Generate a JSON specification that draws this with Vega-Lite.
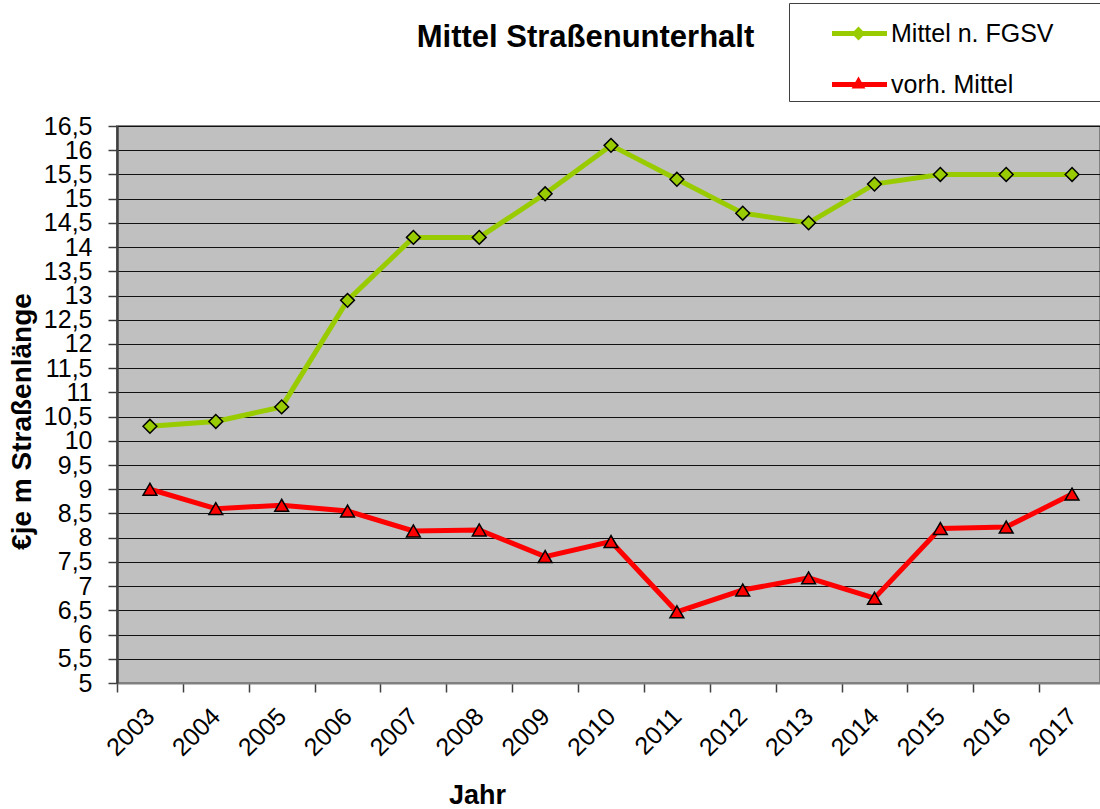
{
  "$schema": "https://vega.github.io/schema/vega-lite/v6.json",
  "width": 983,
  "height": 557,
  "autosize": {"type": "none"},
  "padding": {"left": 117, "top": 126, "right": 0, "bottom": 126},
  "background": "white",
  "config": {
    "font": "Liberation Sans",
    "view": {"fill": "#C0C0C0", "stroke": "#808080", "strokeWidth": 2}
  },
  "title": {
    "text": "Mittel Straßenunterhalt",
    "fontSize": 31,
    "fontWeight": "bold",
    "font": "Liberation Sans",
    "color": "black",
    "anchor": "middle",
    "frame": "group",
    "baseline": "alphabetic",
    "dx": -23,
    "offset": -75
  },
  "data": {
    "values": [
      {"Jahr": "2003", "Reihe": "Mittel n. FGSV", "Wert": 10.3},
      {"Jahr": "2004", "Reihe": "Mittel n. FGSV", "Wert": 10.4},
      {"Jahr": "2005", "Reihe": "Mittel n. FGSV", "Wert": 10.7},
      {"Jahr": "2006", "Reihe": "Mittel n. FGSV", "Wert": 12.9},
      {"Jahr": "2007", "Reihe": "Mittel n. FGSV", "Wert": 14.2},
      {"Jahr": "2008", "Reihe": "Mittel n. FGSV", "Wert": 14.2},
      {"Jahr": "2009", "Reihe": "Mittel n. FGSV", "Wert": 15.1},
      {"Jahr": "2010", "Reihe": "Mittel n. FGSV", "Wert": 16.1},
      {"Jahr": "2011", "Reihe": "Mittel n. FGSV", "Wert": 15.4},
      {"Jahr": "2012", "Reihe": "Mittel n. FGSV", "Wert": 14.7},
      {"Jahr": "2013", "Reihe": "Mittel n. FGSV", "Wert": 14.5},
      {"Jahr": "2014", "Reihe": "Mittel n. FGSV", "Wert": 15.3},
      {"Jahr": "2015", "Reihe": "Mittel n. FGSV", "Wert": 15.5},
      {"Jahr": "2016", "Reihe": "Mittel n. FGSV", "Wert": 15.5},
      {"Jahr": "2017", "Reihe": "Mittel n. FGSV", "Wert": 15.5},
      {"Jahr": "2003", "Reihe": "vorh. Mittel", "Wert": 9.0},
      {"Jahr": "2004", "Reihe": "vorh. Mittel", "Wert": 8.6},
      {"Jahr": "2005", "Reihe": "vorh. Mittel", "Wert": 8.67},
      {"Jahr": "2006", "Reihe": "vorh. Mittel", "Wert": 8.55},
      {"Jahr": "2007", "Reihe": "vorh. Mittel", "Wert": 8.14},
      {"Jahr": "2008", "Reihe": "vorh. Mittel", "Wert": 8.16},
      {"Jahr": "2009", "Reihe": "vorh. Mittel", "Wert": 7.61},
      {"Jahr": "2010", "Reihe": "vorh. Mittel", "Wert": 7.92},
      {"Jahr": "2011", "Reihe": "vorh. Mittel", "Wert": 6.47},
      {"Jahr": "2012", "Reihe": "vorh. Mittel", "Wert": 6.92},
      {"Jahr": "2013", "Reihe": "vorh. Mittel", "Wert": 7.17},
      {"Jahr": "2014", "Reihe": "vorh. Mittel", "Wert": 6.75},
      {"Jahr": "2015", "Reihe": "vorh. Mittel", "Wert": 8.19},
      {"Jahr": "2016", "Reihe": "vorh. Mittel", "Wert": 8.22},
      {"Jahr": "2017", "Reihe": "vorh. Mittel", "Wert": 8.9}
    ]
  },
  "encoding": {
    "x": {
      "field": "Jahr",
      "type": "ordinal",
      "scale": {"type": "band", "range": [0, 988], "paddingInner": 0, "paddingOuter": 0},
      "axis": {
        "title": "Jahr",
        "titleFontSize": 27,
        "titleFontWeight": "bold",
        "titleColor": "black",
        "titleX": 360,
        "titleY": 112,
        "titleBaseline": "middle",
        "titleAlign": "center",
        "labelAngle": -45,
        "labelAlign": "right",
        "labelBaseline": "middle",
        "labelFontSize": 25,
        "labelColor": "black",
        "labelPadding": 20,
        "labelOverlap": false,
        "tickBand": "extent",
        "tickSize": 9,
        "tickColor": "#404040",
        "tickWidth": 1.5,
        "domainColor": "#808080",
        "domainWidth": 2,
        "grid": false
      }
    },
    "y": {
      "field": "Wert",
      "type": "quantitative",
      "scale": {"domain": [5, 16.5], "nice": false, "zero": false},
      "axis": {
        "title": "€je m Straßenlänge",
        "titleFontSize": 28,
        "titleFontWeight": "bold",
        "titleColor": "black",
        "titleX": -95,
        "titleY": 295,
        "titleBaseline": "middle",
        "titleAlign": "center",
        "values": [5, 5.5, 6, 6.5, 7, 7.5, 8, 8.5, 9, 9.5, 10, 10.5, 11, 11.5, 12, 12.5, 13, 13.5, 14, 14.5, 15, 15.5, 16, 16.5],
        "labelExpr": "replace(format(datum.value, '.1~f'), '.', ',')",
        "labelFontSize": 25,
        "labelColor": "black",
        "labelPadding": 16,
        "labelBaseline": "middle",
        "labelOverlap": false,
        "labelBound": false,
        "tickSize": 9,
        "tickColor": "#404040",
        "tickWidth": 1.5,
        "domainColor": "#404040",
        "domainWidth": 2.5,
        "grid": true,
        "gridColor": "#111111",
        "gridWidth": 1
      }
    }
  },
  "layer": [
    {
      "mark": {"type": "line", "strokeWidth": 5},
      "encoding": {
        "stroke": {
          "field": "Reihe",
          "type": "nominal",
          "scale": {"range": ["#99CC00", "#FF0000"]},
          "legend": {
            "orient": "none",
            "legendX": 672,
            "legendY": -123,
            "title": null,
            "symbolType": "M-1.1,0H1.1",
            "symbolSize": 2500,
            "symbolStrokeWidth": 5,
            "labelFontSize": 25,
            "labelColor": "black",
            "labelOffset": 4,
            "labelLimit": 500,
            "padding": 3,
            "symbolOffset": 40,
            "rowPadding": 10,
            "fillColor": "white",
            "strokeColor": "#404040",
            "labelExpr": "datum.label + '\u2800\u00a0\u2800'"
          }
        }
      }
    },
    {
      "mark": {"type": "point", "filled": true, "opacity": 1, "stroke": "black", "strokeWidth": 1.5, "size": 190},
      "encoding": {
        "fill": {
          "field": "Reihe",
          "type": "nominal",
          "scale": {"domain": ["Mittel n. FGSV", "vorh. Mittel"], "range": ["#99CC00", "#FF0000"]},
          "legend": {
            "orient": "none",
            "legendX": 729,
            "legendY": -105,
            "title": null,
            "symbolSize": 190,
            "symbolStrokeColor": "black",
            "symbolStrokeWidth": 1.5,
            "labelFontSize": 25,
            "labelOpacity": 0,
            "padding": 0,
            "rowPadding": 23
          }
        },
        "shape": {
          "field": "Reihe",
          "type": "nominal",
          "scale": {"domain": ["Mittel n. FGSV", "vorh. Mittel"], "range": ["diamond", "triangle-up"]},
          "legend": {
            "orient": "none",
            "legendX": 729,
            "legendY": -105,
            "title": null,
            "symbolSize": 190,
            "symbolStrokeColor": "black",
            "symbolStrokeWidth": 1.5,
            "labelFontSize": 25,
            "labelOpacity": 0,
            "padding": 0,
            "rowPadding": 23
          }
        }
      }
    }
  ]
}
